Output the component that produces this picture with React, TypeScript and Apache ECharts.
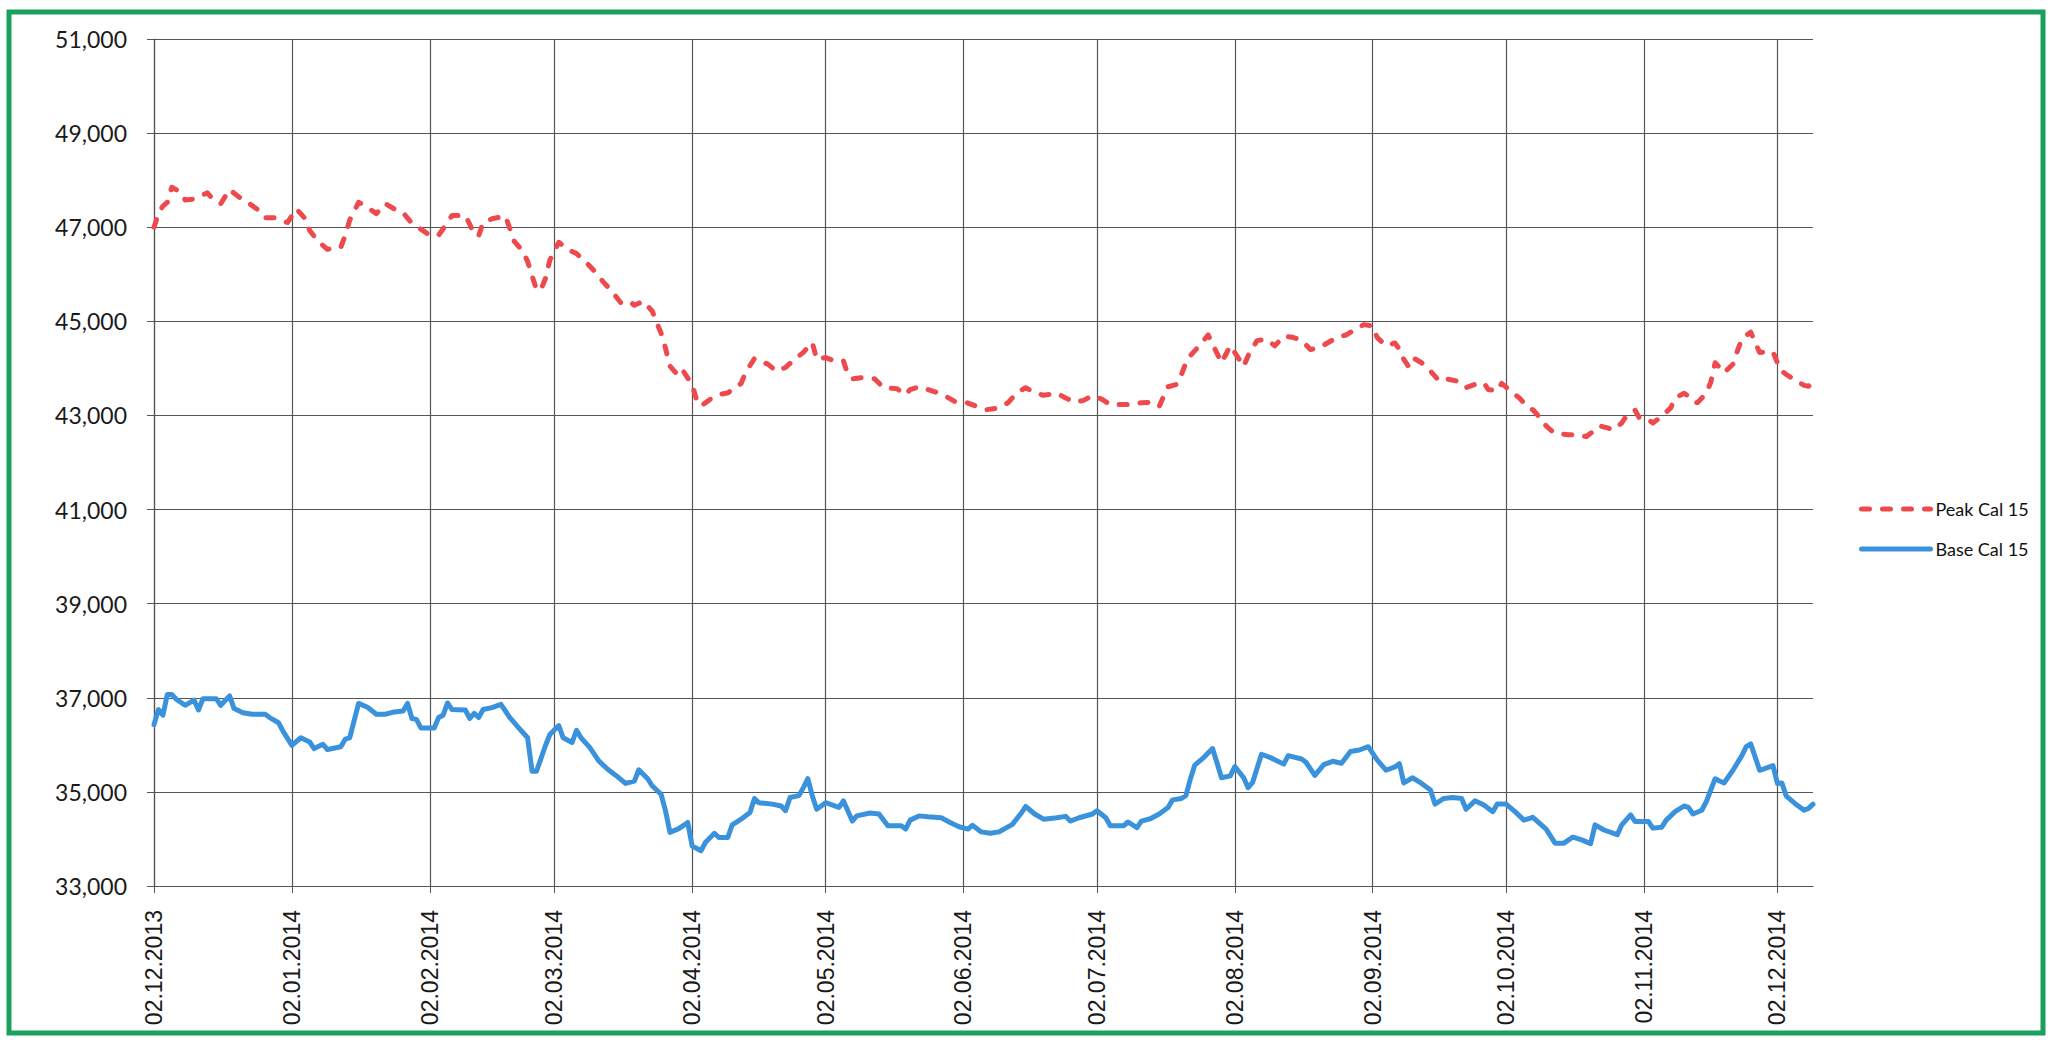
import React, { useEffect, useRef } from "react";
import * as echarts from "echarts";

const yTicks = ["33,000", "35,000", "37,000", "39,000", "41,000", "43,000", "45,000", "47,000", "49,000", "51,000"];
const xTickDates = [
  "2013-12-02", "2014-01-02", "2014-02-02", "2014-03-02", "2014-04-02", "2014-05-02", "2014-06-02",
  "2014-07-02", "2014-08-02", "2014-09-02", "2014-10-02", "2014-11-02", "2014-12-02",
];
const xMinDate = "2013-12-02";
const xMaxDate = "2014-12-10";
const seriesNames = ["Peak Cal 15", "Base Cal 15"];

const peakDates = [
  "2013-12-02", "2013-12-03", "2013-12-04", "2013-12-05", "2013-12-06", "2013-12-08", "2013-12-09", "2013-12-11",
  "2013-12-13", "2013-12-14", "2013-12-15", "2013-12-17", "2013-12-19", "2013-12-21", "2013-12-23", "2013-12-26",
  "2013-12-27", "2013-12-29", "2014-01-01", "2014-01-03", "2014-01-05", "2014-01-06", "2014-01-08", "2014-01-10",
  "2014-01-13", "2014-01-14", "2014-01-15", "2014-01-17", "2014-01-18", "2014-01-21", "2014-01-23", "2014-01-25",
  "2014-01-27", "2014-01-29", "2014-01-31", "2014-02-02", "2014-02-04", "2014-02-06", "2014-02-07", "2014-02-10",
  "2014-02-11", "2014-02-12", "2014-02-13", "2014-02-14", "2014-02-16", "2014-02-19", "2014-02-20", "2014-02-21",
  "2014-02-23", "2014-02-24", "2014-02-25", "2014-02-26", "2014-02-27", "2014-02-28", "2014-03-01", "2014-03-03",
  "2014-03-05", "2014-03-07", "2014-03-09", "2014-03-11", "2014-03-13", "2014-03-15", "2014-03-17", "2014-03-19",
  "2014-03-20", "2014-03-22", "2014-03-24", "2014-03-25", "2014-03-26", "2014-03-27", "2014-03-28", "2014-03-30",
  "2014-03-31", "2014-04-02", "2014-04-03", "2014-04-04", "2014-04-06", "2014-04-08", "2014-04-10", "2014-04-13",
  "2014-04-14", "2014-04-16", "2014-04-19", "2014-04-21", "2014-04-23", "2014-04-25", "2014-04-27", "2014-04-29",
  "2014-04-30", "2014-05-02", "2014-05-04", "2014-05-06", "2014-05-07", "2014-05-08", "2014-05-10", "2014-05-13",
  "2014-05-15", "2014-05-18", "2014-05-20", "2014-05-21", "2014-05-23", "2014-05-25", "2014-05-27", "2014-05-29",
  "2014-05-31", "2014-06-02", "2014-06-05", "2014-06-07", "2014-06-10", "2014-06-12", "2014-06-14", "2014-06-16",
  "2014-06-18", "2014-06-20", "2014-06-23", "2014-06-25", "2014-06-27", "2014-06-29", "2014-07-01", "2014-07-03",
  "2014-07-05", "2014-07-07", "2014-07-10", "2014-07-12", "2014-07-14", "2014-07-16", "2014-07-17", "2014-07-18",
  "2014-07-20", "2014-07-21", "2014-07-22", "2014-07-23", "2014-07-25", "2014-07-27", "2014-07-28", "2014-07-30",
  "2014-07-31", "2014-08-01", "2014-08-03", "2014-08-04", "2014-08-05", "2014-08-07", "2014-08-09", "2014-08-11",
  "2014-08-13", "2014-08-15", "2014-08-17", "2014-08-19", "2014-08-21", "2014-08-23", "2014-08-25", "2014-08-27",
  "2014-08-29", "2014-08-31", "2014-09-02", "2014-09-03", "2014-09-05", "2014-09-07", "2014-09-08", "2014-09-09",
  "2014-09-10", "2014-09-11", "2014-09-13", "2014-09-15", "2014-09-17", "2014-09-19", "2014-09-21", "2014-09-23",
  "2014-09-25", "2014-09-27", "2014-09-28", "2014-09-30", "2014-10-01", "2014-10-03", "2014-10-05", "2014-10-07",
  "2014-10-08", "2014-10-09", "2014-10-10", "2014-10-12", "2014-10-13", "2014-10-16", "2014-10-18", "2014-10-20",
  "2014-10-22", "2014-10-23", "2014-10-25", "2014-10-26", "2014-10-28", "2014-10-29", "2014-10-31", "2014-11-01",
  "2014-11-03", "2014-11-04", "2014-11-06", "2014-11-08", "2014-11-09", "2014-11-11", "2014-11-12", "2014-11-13",
  "2014-11-14", "2014-11-15", "2014-11-16", "2014-11-17", "2014-11-18", "2014-11-19", "2014-11-20", "2014-11-22",
  "2014-11-23", "2014-11-24", "2014-11-25", "2014-11-26", "2014-11-27", "2014-11-28", "2014-11-30", "2014-12-01",
  "2014-12-02", "2014-12-03", "2014-12-04", "2014-12-06", "2014-12-08", "2014-12-09", "2014-12-10",
];
const peakValues = [
  47000, 47290, 47450, 47530, 47850, 47745, 47580, 47600,
  47690, 47730, 47620, 47500, 47800, 47650, 47530, 47330,
  47200, 47200, 47100, 47390, 47180, 46930, 46690, 46530,
  46570, 46830, 47150, 47530, 47480, 47290, 47500, 47390,
  47310, 47080, 46960, 46830, 46830, 47100, 47250, 47250,
  47060, 46840, 46820, 47100, 47180, 47240, 46970, 46700,
  46480, 46270, 45970, 45670, 45670, 45910, 46300, 46680,
  46530, 46440, 46270, 46070, 45840, 45630, 45390, 45420,
  45340, 45430, 45220, 44980, 44750, 44430, 44050, 43830,
  43940, 43650, 43330, 43200, 43340, 43440, 43480, 43680,
  43910, 44210, 44090, 43940, 44020, 44190, 44340, 44550,
  44190, 44230, 44160, 44160, 43870, 43780, 43800, 43780,
  43590, 43570, 43440, 43550, 43610, 43550, 43490, 43410,
  43300, 43300, 43190, 43120, 43160, 43270, 43480, 43590,
  43480, 43430, 43470, 43370, 43280, 43320, 43420, 43350,
  43230, 43230, 43230, 43270, 43280, 43190, 43410, 43610,
  43660, 43870, 44120, 44270, 44480, 44710, 44520, 44120,
  44300, 44480, 44190, 44040, 44270, 44590, 44620, 44480,
  44690, 44660, 44600, 44400, 44440, 44550, 44660, 44710,
  44820, 44930, 44900, 44660, 44480, 44540, 44410, 44190,
  44050, 44230, 44120, 43940, 43730, 43770, 43730, 43590,
  43660, 43690, 43550, 43520, 43680, 43520, 43370, 43160,
  43120, 43020, 42870, 42690, 42620, 42590, 42590, 42550,
  42690, 42780, 42730, 42690, 42840, 42980, 43110, 42940,
  42910, 42840, 42980, 43160, 43370, 43470, 43410, 43300,
  43270, 43370, 43480, 43700, 44120, 44020, 43910, 44090,
  44370, 44620, 44700, 44770, 44550, 44340, 44350, 44350,
  44120, 43940, 43870, 43750, 43640, 43620, 43710,
];

const baseDates = [
  "2013-12-02", "2013-12-03", "2013-12-04", "2013-12-05", "2013-12-06", "2013-12-07", "2013-12-09", "2013-12-11",
  "2013-12-12", "2013-12-13", "2013-12-15", "2013-12-16", "2013-12-17", "2013-12-19", "2013-12-20", "2013-12-22",
  "2013-12-24", "2013-12-27", "2013-12-28", "2013-12-30", "2013-12-31", "2014-01-02", "2014-01-04", "2014-01-06",
  "2014-01-07", "2014-01-09", "2014-01-10", "2014-01-13", "2014-01-14", "2014-01-15", "2014-01-17", "2014-01-19",
  "2014-01-21", "2014-01-23", "2014-01-25", "2014-01-27", "2014-01-28", "2014-01-29", "2014-01-30", "2014-01-31",
  "2014-02-03", "2014-02-04", "2014-02-05", "2014-02-06", "2014-02-07", "2014-02-10", "2014-02-11", "2014-02-12",
  "2014-02-13", "2014-02-14", "2014-02-16", "2014-02-18", "2014-02-20", "2014-02-22", "2014-02-24", "2014-02-25",
  "2014-02-26", "2014-02-28", "2014-03-01", "2014-03-03", "2014-03-04", "2014-03-06", "2014-03-07", "2014-03-08",
  "2014-03-10", "2014-03-12", "2014-03-14", "2014-03-16", "2014-03-18", "2014-03-20", "2014-03-21", "2014-03-23",
  "2014-03-24", "2014-03-26", "2014-03-27", "2014-03-28", "2014-03-30", "2014-04-01", "2014-04-02", "2014-04-04",
  "2014-04-05", "2014-04-07", "2014-04-08", "2014-04-10", "2014-04-11", "2014-04-13", "2014-04-15", "2014-04-16",
  "2014-04-17", "2014-04-20", "2014-04-22", "2014-04-23", "2014-04-24", "2014-04-26", "2014-04-27", "2014-04-28",
  "2014-04-29", "2014-04-30", "2014-05-02", "2014-05-05", "2014-05-06", "2014-05-08", "2014-05-09", "2014-05-12",
  "2014-05-14", "2014-05-16", "2014-05-19", "2014-05-20", "2014-05-21", "2014-05-23", "2014-05-25", "2014-05-28",
  "2014-05-30", "2014-06-01", "2014-06-03", "2014-06-04", "2014-06-06", "2014-06-08", "2014-06-10", "2014-06-13",
  "2014-06-15", "2014-06-16", "2014-06-18", "2014-06-20", "2014-06-23", "2014-06-25", "2014-06-26", "2014-06-28",
  "2014-07-01", "2014-07-02", "2014-07-04", "2014-07-05", "2014-07-08", "2014-07-09", "2014-07-11", "2014-07-12",
  "2014-07-14", "2014-07-16", "2014-07-18", "2014-07-19", "2014-07-21", "2014-07-22", "2014-07-23", "2014-07-24",
  "2014-07-26", "2014-07-28", "2014-07-29", "2014-07-30", "2014-08-01", "2014-08-02", "2014-08-04", "2014-08-05",
  "2014-08-06", "2014-08-08", "2014-08-10", "2014-08-13", "2014-08-14", "2014-08-17", "2014-08-18", "2014-08-20",
  "2014-08-22", "2014-08-24", "2014-08-26", "2014-08-28", "2014-08-30", "2014-09-01", "2014-09-03", "2014-09-05",
  "2014-09-07", "2014-09-08", "2014-09-09", "2014-09-11", "2014-09-13", "2014-09-15", "2014-09-16", "2014-09-18",
  "2014-09-20", "2014-09-22", "2014-09-23", "2014-09-25", "2014-09-27", "2014-09-29", "2014-09-30", "2014-10-02",
  "2014-10-04", "2014-10-06", "2014-10-08", "2014-10-11", "2014-10-13", "2014-10-15", "2014-10-17", "2014-10-19",
  "2014-10-21", "2014-10-22", "2014-10-24", "2014-10-27", "2014-10-28", "2014-10-30", "2014-10-31", "2014-11-03",
  "2014-11-04", "2014-11-06", "2014-11-07", "2014-11-09", "2014-11-11", "2014-11-12", "2014-11-13", "2014-11-15",
  "2014-11-16", "2014-11-18", "2014-11-19", "2014-11-20", "2014-11-22", "2014-11-24", "2014-11-25", "2014-11-26",
  "2014-11-28", "2014-11-29", "2014-12-01", "2014-12-02", "2014-12-03", "2014-12-04", "2014-12-06", "2014-12-08",
  "2014-12-09", "2014-12-10",
];
const baseValues = [
  36430, 36750, 36630, 37070, 37070, 36970, 36840, 36950,
  36740, 36980, 36980, 36980, 36840, 37040, 36770, 36680,
  36650, 36650, 36580, 36470, 36290, 35990, 36150, 36060,
  35920, 36010, 35900, 35960, 36120, 36150, 36880, 36800,
  36650, 36650, 36700, 36720, 36880, 36560, 36540, 36360,
  36360, 36580, 36630, 36890, 36750, 36740, 36560, 36670,
  36580, 36750, 36790, 36860, 36580, 36360, 36150, 35440,
  35440, 35980, 36220, 36410, 36150, 36050, 36310, 36150,
  35940, 35660, 35480, 35340, 35180, 35230, 35470, 35280,
  35130, 34950, 34600, 34140, 34220, 34350, 33850, 33750,
  33930, 34120, 34030, 34030, 34300, 34420, 34560, 34860,
  34770, 34740, 34700, 34600, 34880, 34920, 35090, 35280,
  34920, 34630, 34770, 34670, 34810, 34380, 34490, 34550,
  34530, 34280, 34280, 34210, 34400, 34490, 34470, 34450,
  34350, 34260, 34210, 34290, 34150, 34120, 34150, 34310,
  34550, 34690, 34530, 34420, 34450, 34480, 34380, 34450,
  34530, 34600, 34450, 34280, 34280, 34360, 34240, 34380,
  34430, 34530, 34670, 34830, 34860, 34920, 35270, 35570,
  35730, 35920, 35620, 35300, 35340, 35540, 35300, 35090,
  35200, 35800, 35730, 35590, 35770, 35700, 35630, 35350,
  35580, 35650, 35610, 35860, 35890, 35960, 35680, 35460,
  35530, 35600, 35190, 35300, 35180, 35040, 34740, 34860,
  34880, 34860, 34630, 34810, 34720, 34580, 34740, 34740,
  34580, 34400, 34460, 34210, 33910, 33910, 34040, 33980,
  33900, 34300, 34190, 34090, 34300, 34510, 34370, 34370,
  34230, 34250, 34400, 34580, 34700, 34670, 34530, 34610,
  34790, 35280, 35230, 35190, 35460, 35770, 35960, 36020,
  35460, 35490, 35560, 35180, 35190, 34910, 34750, 34610,
  34650, 34740,
];

const toTs = (s: string) => {
  const [y, m, d] = s.split("-").map(Number);
  return Date.UTC(y, m - 1, d);
};
const pad = (n: number) => (n < 10 ? "0" + n : "" + n);
const fmtDate = (v: number) => {
  const d = new Date(v);
  return pad(d.getUTCDate()) + "." + pad(d.getUTCMonth() + 1) + "." + d.getUTCFullYear();
};

export default function App() {
  const ref = useRef<HTMLDivElement>(null);
  useEffect(() => {
    if (!ref.current) return;
    const chart = echarts.init(ref.current, undefined, { renderer: "svg" });
    const tickTs = xTickDates.map(toTs);
    const gridColor = "#555555";
    const peakColor = "#EE4A4E";
    const baseColor = "#3A92DC";
    chart.setOption({
      animation: false,
      backgroundColor: "#ffffff",
      grid: { left: 154, right: 237, top: 39, bottom: 154, containLabel: false },
      xAxis: {
        type: "value",
        min: toTs(xMinDate),
        max: toTs(xMaxDate),
        axisLine: { show: true, onZero: false, lineStyle: { color: gridColor, width: 1.2 } },
        axisTick: { show: true, customValues: tickTs, length: 7, lineStyle: { color: gridColor } },
        axisLabel: {
          customValues: tickTs,
          rotate: 90,
          margin: 24,
          fontSize: 23,
          fontFamily: "Liberation Sans, Arial, sans-serif",
          color: "#1a1a1a",
          formatter: (v: number) => fmtDate(v),
        },
        splitLine: { show: true, lineStyle: { color: gridColor, width: 1.2 } },
      },
      yAxis: {
        type: "value",
        min: 33000,
        max: 51000,
        interval: 2000,
        axisLine: { show: true, lineStyle: { color: gridColor, width: 1.2 } },
        axisTick: { show: true, length: 7, lineStyle: { color: gridColor } },
        axisLabel: {
          margin: 27,
          fontSize: 23,
          fontFamily: "Lato, sans-serif",
          color: "#1a1a1a",
          formatter: (v: number) => yTicks[Math.round((v - 33000) / 2000)] ?? String(v),
        },
        splitLine: { show: true, lineStyle: { color: gridColor, width: 1.2 } },
      },
      legend: {
        orient: "vertical",
        left: 1854,
        top: 495,
        itemWidth: 69,
        itemHeight: 14,
        itemGap: 22,
        itemStyle: { opacity: 0 },
        data: [
          { name: seriesNames[0], lineStyle: { color: peakColor, width: 5, type: [8, 13], cap: "round" } },
          { name: seriesNames[1], lineStyle: { color: baseColor, width: 5, cap: "round" } },
        ],
        textStyle: { fontSize: 18, fontFamily: "Lato, sans-serif", color: "#111" },
      },
      graphic: [
        {
          type: "rect",
          shape: { x: 9, y: 12, width: 2034, height: 1021 },
          style: { fill: "none", stroke: "#19A05C", lineWidth: 5 },
          silent: true,
        },
      ],
      series: [
        {
          name: seriesNames[0],
          type: "line",
          symbol: "none",
          data: peakDates.map((d, i) => [toTs(d), peakValues[i]]),
          lineStyle: { color: peakColor, width: 5, type: [8, 13], cap: "round", join: "round" },
          itemStyle: { color: peakColor },
        },
        {
          name: seriesNames[1],
          type: "line",
          symbol: "none",
          data: baseDates.map((d, i) => [toTs(d), baseValues[i]]),
          lineStyle: { color: baseColor, width: 5, cap: "round", join: "round" },
          itemStyle: { color: baseColor },
        },
      ],
    });
    return () => chart.dispose();
  }, []);
  return (
    <div
      ref={ref}
      style={{ position: "fixed", left: 0, top: 0, width: 2050, height: 1040, background: "#fff" }}
    />
  );
}
